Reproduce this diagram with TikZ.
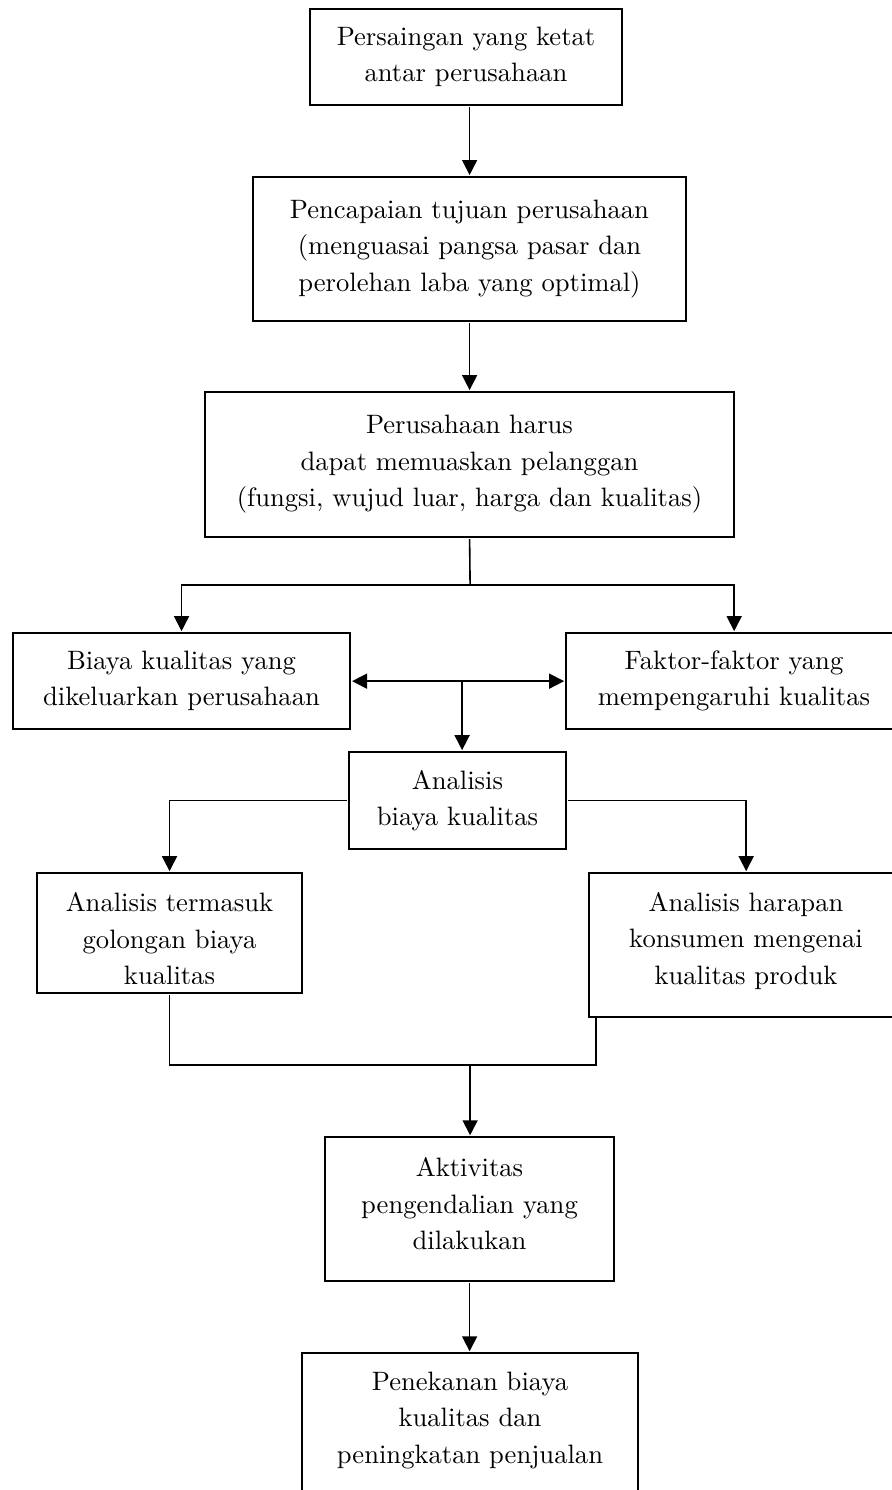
\documentclass[tikz,border=0pt]{standalone}
\usetikzlibrary{arrows.meta}
\begin{document}
\begin{tikzpicture}[x=0.4pt,y=-0.4pt,scale=2.5,
  every node/.append style={transform shape},
  box/.style={draw, line width=1.6pt, inner sep=0pt, align=center, font=\fontsize{10.64}{14.6}\selectfont},
  txt/.style={inner sep=0pt, align=center, font=\fontsize{10.64}{14.6}\selectfont},
  arr/.style={line width=1.6pt, -{Triangle[length=15pt,width=15pt]}},
  darr/.style={line width=1.6pt, {Triangle[length=15pt,width=15pt]}-{Triangle[length=15pt,width=15pt]}},
  ln/.style={line width=1.6pt}]
\clip (0,0) rectangle (892,1490);
\fill[white] (0,0) rectangle (892,1490);

% boxes
\node[box, minimum width=124.8pt, minimum height=38.4pt] (b1) at (466,57)
  {Persaingan yang ketat\\antar perusahaan};
\node[box, minimum width=173.2pt, minimum height=57.6pt] (b2) at (469.5,249)
  {Pencapaian tujuan perusahaan\\(menguasai pangsa pasar dan\\perolehan laba yang optimal)};
\node[box, minimum width=211.6pt, minimum height=58pt] (b3) at (469.5,464.5)
  {Perusahaan harus\\dapat memuaskan pelanggan\\(fungsi, wujud luar, harga dan kualitas)};
\node[box, minimum width=134.8pt, minimum height=38.4pt] (bl) at (181.5,681)
  {Biaya kualitas yang\\dikeluarkan perusahaan};
\node[box, minimum width=134.4pt, minimum height=38.4pt] (br) at (734,681)
  {Faktor-faktor yang\\mempengaruhi kualitas};
\node[box, minimum width=86.8pt, minimum height=38.8pt] (ba) at (457.5,800.5)
  {Analisis\\biaya kualitas};
\node[box, minimum width=106pt, minimum height=48pt] (bt) at (169.5,933) {};
\begin{scope}
  \clip (37,873) rectangle (302,983.5);
  \node[txt] (btt) at (169.5,939) {Analisis termasuk\\golongan biaya\\kualitas};
\end{scope}
\node[box, minimum width=125.6pt, minimum height=57.6pt] (bh) at (746,945) {};
\node[txt] (bht) at (746,941) {Analisis harapan\\konsumen mengenai\\kualitas produk};
\node[box, minimum width=115.6pt, minimum height=57.6pt] (bk) at (469.5,1209) {};
\node[txt] (bkt) at (469.5,1204) {Aktivitas\\pengendalian yang\\dilakukan};
\node[box, minimum width=134.4pt, minimum height=70.8pt] (bp) at (470,1441.5) {};
\node[txt] (bpt) at (470,1420) {Penekanan biaya\\kualitas dan\\peningkatan penjualan};

% connectors
\draw[arr] (b2.north |- b1.south) -- (b2.north);
\draw[arr] (b2.south) -- (b2.south |- b3.north);
\coordinate (j1) at (470,585);
\draw[ln] (b3.south) -- (j1);
\draw[arr] (j1) -| (bl.north);
\draw[arr] (j1) -| (br.north);
\coordinate (j2) at (462,681);
\draw[darr] (bl.east) -- (br.west);
\draw[arr] (j2) -- (j2 |- ba.north);
\draw[arr] (ba.west) -| (bt.north);
\draw[arr] (ba.east) -| (bh.north);
\coordinate (m) at (470,1065);
\coordinate (hr) at (596,1017);
\draw[ln] (bt.south) |- (m);
\draw[ln] (hr) |- (m);
\draw[arr] (m) -- (m |- bk.north);
\draw[arr] (bk.south) -- (bk.south |- bp.north);
\end{tikzpicture}
\end{document}
